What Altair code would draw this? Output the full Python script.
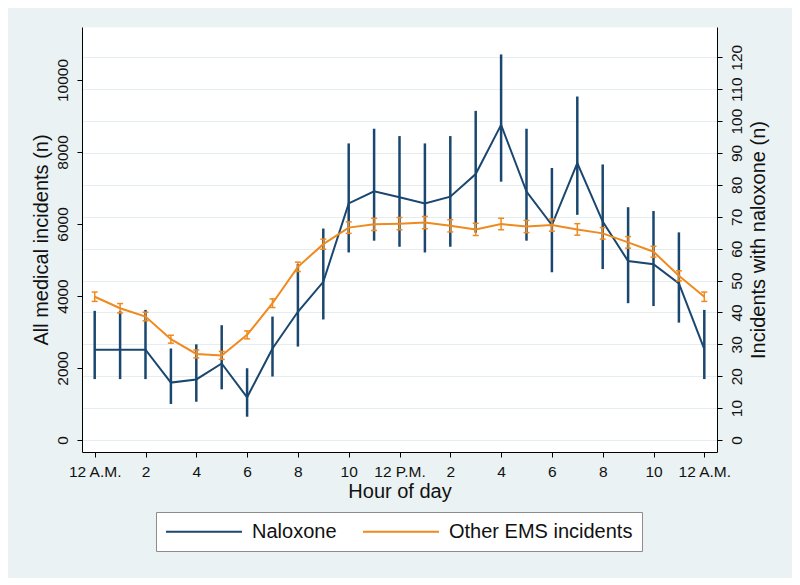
import altair as alt
import pandas as pd

# ---- data ----
hours = list(range(25))
x_ticks = list(range(0, 25, 2))
x_labels = ["12 A.M.", "2", "4", "6", "8", "10", "12 P.M.", "2", "4", "6", "8", "10", "12 A.M."]

other_ems = [3980, 3660, 3430, 2800, 2390, 2350, 2920, 3800, 4810, 5440, 5900, 5990, 6010,
             6040, 5950, 5850, 6000, 5930, 5970, 5850, 5740, 5490, 5230, 4560, 3980]
other_lo = [3850, 3530, 3310, 2690, 2280, 2240, 2810, 3680, 4680, 5300, 5740, 5820, 5840,
            5870, 5780, 5680, 5840, 5760, 5800, 5690, 5580, 5330, 5080, 4420, 3850]
other_hi = [4110, 3790, 3550, 2910, 2500, 2460, 3030, 3920, 4940, 5580, 6060, 6160, 6180,
            6210, 6120, 6020, 6160, 6100, 6140, 6010, 5900, 5650, 5380, 4700, 4110]

naloxone = [28.3, 28.3, 28.3, 18.0, 19.0, 24.0, 13.4, 28.7, 40.2, 49.6, 74.2, 78.0, 76.1,
            74.2, 76.3, 83.4, 98.8, 77.9, 67.4, 86.8, 68.5, 56.1, 55.1, 49.1, 28.5]
nal_lo = [19.1, 19.1, 19.1, 11.3, 12.0, 15.9, 7.3, 19.9, 29.3, 37.8, 58.8, 62.5, 60.6,
          58.8, 60.6, 65.0, 81.0, 62.5, 52.6, 70.6, 53.6, 42.9, 42.0, 36.8, 19.1]
nal_hi = [40.5, 40.5, 40.8, 28.7, 30.0, 36.0, 22.5, 38.7, 55.2, 66.3, 93.0, 97.6, 95.3,
          93.0, 95.3, 103.2, 120.9, 97.6, 85.3, 107.7, 86.4, 73.0, 71.8, 65.1, 40.8]

series_names = ["Naloxone", "Other EMS incidents"]
series_colors = ["#1A476F", "#EE8A1E"]

left_ticks = [0, 2000, 4000, 6000, 8000, 10000]
right_ticks = [0, 10, 20, 30, 40, 50, 60, 70, 80, 90, 100, 110, 120]

df_nal = pd.DataFrame({"hour": hours, "series": series_names[0], "value": naloxone,
                       "lo": nal_lo, "hi": nal_hi})
df_oth = pd.DataFrame({"hour": hours, "series": series_names[1], "value": other_ems,
                       "lo": other_lo, "hi": other_hi})

FONT = "Liberation Sans"
INK = "#111111"

label_expr = "[" + ",".join("'" + s + "'" for s in x_labels) + "][round(datum.value / 2)]"
x_scale = alt.Scale(domain=[-0.5, 24.5], nice=False, zero=False)
x_axis = alt.Axis(values=x_ticks, labelExpr=label_expr, title="Hour of day", grid=False,
                  tickSize=5, labelPadding=7, titlePadding=2, labelFontSize=15.5,
                  titleFontSize=20, domainColor="#000000", tickColor="#000000",
                  labelColor=INK, titleColor=INK)


def X():
    return alt.X("hour:Q", scale=x_scale, axis=x_axis)


left_scale = alt.Scale(domain=[-333, 11472], nice=False, zero=False)
left_axis = alt.Axis(values=left_ticks, format="d", orient="left",
                     title="All medical incidents (n)",
                     grid=False, tickSize=5, labelAngle=270, labelAlign="center",
                     labelBaseline="bottom", labelPadding=7, titlePadding=4,
                     labelFontSize=15.5, titleFontSize=20, domainColor="#000000",
                     tickColor="#000000", labelColor=INK, titleColor=INK)

right_scale = alt.Scale(domain=[-3.76, 129.5], nice=False, zero=False)
right_axis = alt.Axis(values=right_ticks, format="d", orient="right",
                      title="Incidents with naloxone (n)",
                      grid=True, gridColor="#E4EEF0", gridWidth=1.2, tickSize=5,
                      labelAngle=270, labelAlign="center", labelBaseline="top",
                      labelPadding=7, titleAngle=270, titleBaseline="top", titlePadding=4,
                      labelFontSize=15.5, titleFontSize=20, domainColor="#000000",
                      tickColor="#000000", labelColor=INK, titleColor=INK)

color_enc = alt.Color(
    "series:N",
    scale=alt.Scale(domain=series_names, range=series_colors),
    legend=alt.Legend(
        title=None, orient="none", legendX=74, legendY=485, direction="horizontal",
        columns=2, columnPadding=22, padding=9, fillColor="white", strokeColor="#8C8C8C",
        symbolType="M-1,0H7", symbolSize=361, symbolStrokeWidth=2, labelOffset=66,
        labelFontSize=20, labelFont=FONT, labelColor=INK, labelLimit=400,
    ),
)

# Naloxone (right axis)
nal_base = alt.Chart(df_nal)
nal_bars = nal_base.mark_rule(strokeWidth=2.5, color=series_colors[0]).encode(
    x=X(), y=alt.Y("lo:Q", scale=right_scale, axis=right_axis), y2="hi:Q")
nal_line = nal_base.mark_line(strokeWidth=2).encode(
    x=X(), y=alt.Y("value:Q", scale=right_scale, axis=right_axis), color=color_enc)
nal_layer = alt.layer(nal_bars, nal_line)

# Other EMS incidents (left axis)
oth_base = alt.Chart(df_oth)
oth_bars = oth_base.mark_rule(strokeWidth=1.5, color=series_colors[1]).encode(
    x=X(), y=alt.Y("lo:Q", scale=left_scale, axis=left_axis), y2="hi:Q")
oth_cap_lo = oth_base.mark_rule(strokeWidth=1.5, color=series_colors[1], xOffset=-3,
                                x2Offset=3).encode(
    x=X(), x2="hour:Q", y=alt.Y("lo:Q", scale=left_scale, axis=left_axis))
oth_cap_hi = oth_base.mark_rule(strokeWidth=1.5, color=series_colors[1], xOffset=-3,
                                x2Offset=3).encode(
    x=X(), x2="hour:Q", y=alt.Y("hi:Q", scale=left_scale, axis=left_axis))
oth_line = oth_base.mark_line(strokeWidth=2).encode(
    x=X(), y=alt.Y("value:Q", scale=left_scale, axis=left_axis), color=color_enc)
oth_layer = alt.layer(oth_bars, oth_cap_lo, oth_cap_hi, oth_line)

chart = (
    alt.layer(nal_layer, oth_layer)
    .resolve_scale(y="independent")
    .properties(width=635, height=425, autosize="none",
                padding={"left": 74, "top": 19, "right": 75, "bottom": 126},
                background="#EAF2F3")
    .configure_view(fill="white", stroke="transparent")
    .configure_axis(labelFont=FONT, titleFont=FONT, titleFontWeight="normal")
    .configure_legend(labelFont=FONT)
)

chart.save("out.html", embed_options={"renderer": "svg", "actions": False})
